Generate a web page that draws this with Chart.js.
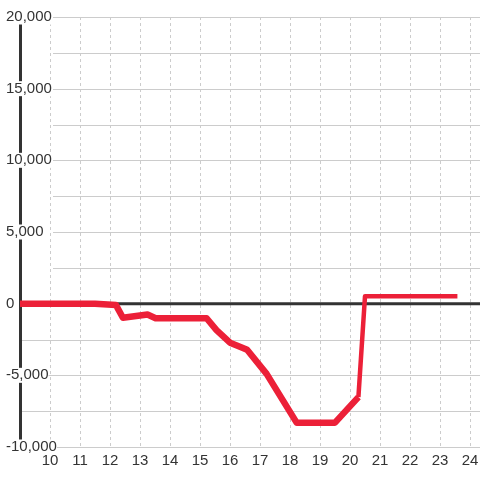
<!DOCTYPE html>
<html><head><meta charset="utf-8">
<script src="https://cdn.jsdelivr.net/npm/chart.js@4/dist/chart.umd.min.js"></script>
<style>html,body{margin:0;padding:0;background:#fff}#wrap{width:480px;height:480px}</style>
</head><body><div id="wrap"><canvas id="c" width="480" height="480"></canvas></div>
<script>
const hours  = [9, 11.5, 12.2, 12.43, 13.25, 13.52, 15.22, 15.55, 16.0, 16.35, 16.57, 17.22, 18.22, 19.5, 20.28, 20.5, 23.58];
const values = [0, 0, -100, -980, -760, -1020, -1020, -1850, -2720, -3020, -3220, -4900, -8300, -8300, -6520, 520, 520];
const yMin = -10000, yMax = 20000, yStep = 2500, yLabelStep = 5000;
const xMin = 9, xMax = 24.333, xStep = 1;

const FONT = {family: '"Liberation Sans", Arial, sans-serif', size: 15, lineHeight: 1};
const RED = '#ec2038';

const gridPlugin = {
  id: 'hgrid',
  afterLayout(chart) {
    // let the y tick labels overlap the plot area, as in the reference
    chart.scales.y._computeLabelArea = () => undefined;
  },
  beforeDraw(chart) {
    const {ctx, chartArea: a, scales: {y}} = chart;
    ctx.save();
    ctx.strokeStyle = '#cccccc';
    ctx.lineWidth = 1;
    y.ticks.forEach(t => {
      if (t.value === 0) return;
      const py = Math.round(y.getPixelForValue(t.value)) + 0.5;
      const x0 = t.value > 0 ? a.left + 33 : a.left;
      ctx.beginPath(); ctx.moveTo(x0, py); ctx.lineTo(a.right, py); ctx.stroke();
    });
    ctx.restore();
  },
  beforeDatasetsDraw(chart) {
    const {ctx, chartArea: a, scales: {y}} = chart;
    const py = y.getPixelForValue(0);
    ctx.save();
    ctx.strokeStyle = '#333333';
    ctx.lineWidth = 3;
    ctx.beginPath(); ctx.moveTo(a.left, py); ctx.lineTo(a.right, py); ctx.stroke();
    ctx.restore();
  }
};

new Chart(document.getElementById('c'), {
  type: 'line',
  data: {
    datasets: [{
      data: hours.map((h, i) => ({x: h, y: values[i]})),
      borderColor: RED,
      borderWidth: 6.5,
      borderCapStyle: 'butt',
      borderJoinStyle: 'round',
      pointRadius: 0,
      pointHoverRadius: 0,
      tension: 0,
      fill: false,
      segment: {
        borderWidth: ctx => ctx.p1.parsed.y > 0 ? 4.5 : 6.5
      }
    }]
  },
  options: {
    responsive: false,
    devicePixelRatio: 1,
    animation: false,
    events: [],
    layout: {padding: {left: 6, top: 17, right: 0, bottom: 12}},
    plugins: {legend: {display: false}, tooltip: {enabled: false}},
    scales: {
      x: {
        type: 'linear',
        min: xMin, max: xMax,
        border: {display: false, dash: [3, 3]},
        grid: {color: '#cccccc', lineWidth: 1, drawTicks: true, tickLength: 6, tickColor: 'rgba(0,0,0,0)'},
        ticks: {
          stepSize: xStep,
          includeBounds: false,
          padding: 0,
          color: '#333333',
          font: FONT,
          maxRotation: 0,
          autoSkip: false,
          callback: v => (v > xMin && Number.isInteger(v)) ? String(v) : ''
        }
      },
      y: {
        min: yMin, max: yMax,
        afterFit: s => { s.width = 14; },
        border: {display: true, color: '#333333', width: 3},
        grid: {display: true, drawTicks: false, color: 'rgba(0,0,0,0)'},
        ticks: {
          stepSize: yStep,
          crossAlign: 'far',
          padding: 0,
          color: '#333333',
          font: FONT,
          showLabelBackdrop: true,
          backdropColor: '#ffffff',
          backdropPadding: 0,
          callback: v => v % yLabelStep === 0 ? v.toLocaleString('en-US') : ''
        }
      }
    }
  },
  plugins: [gridPlugin]
});
</script>
</body></html>
